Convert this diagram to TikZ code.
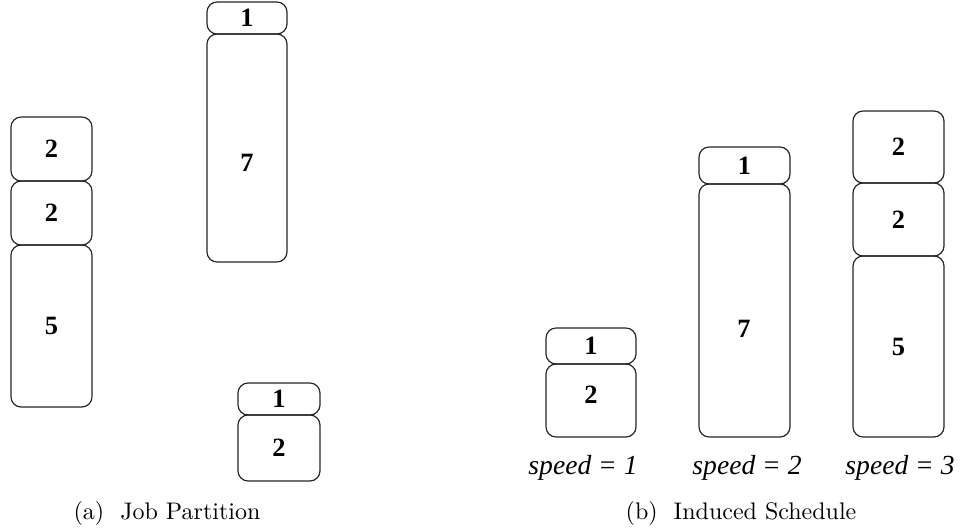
\documentclass[tikz,border=0pt]{standalone}
\usepackage{fontspec}
\newfontfamily\timesfam{Liberation Serif}[Ligatures=TeX]
\usetikzlibrary{fit}
\begin{document}
\begin{tikzpicture}[x=0.4167pt,y=-0.4167pt,
  jobbox/.style={draw=black!85, line width=0.5pt, rounded corners=4.2pt, inner sep=0pt},
  numtext/.style={font=\timesfam\bfseries\fontsize{11}{13}\selectfont, inner sep=0pt},
  speedlbl/.style={font=\timesfam\itshape\fontsize{11.5}{14}\selectfont, anchor=base, inner sep=0pt},
  captext/.style={font=\fontsize{10}{12}\selectfont, anchor=base, inner sep=0pt}]
\useasboundingbox (0,0) rectangle (961,529);
% (a) Job Partition
\node[jobbox, fit={(11,117)(92,181)}] (a1) {};
\node[numtext] (a1t) at (a1.center) {2};
\node[jobbox, fit={(11,181)(92,245)}] (a2) {};
\node[numtext] (a2t) at (a2.center) {2};
\node[jobbox, fit={(11,245)(92,407)}] (a3) {};
\node[numtext] (a3t) at (a3.center) {5};
\node[jobbox, fit={(207,2)(287,34)}] (b1) {};
\node[numtext] (b1t) at (b1.center) {1};
\node[jobbox, fit={(207,34)(287,262)}] (b2) {};
\node[numtext] (b2t) at (247,163) {7};
\node[jobbox, fit={(238,383)(320,415)}] (c1) {};
\node[numtext] (c1t) at (c1.center) {1};
\node[jobbox, fit={(238,415)(320,481)}] (c2) {};
\node[numtext] (c2t) at (c2.center) {2};
\node[captext] (capa) at (167,519) {(a)\ \ Job Partition};
% (b) Induced Schedule
\node[jobbox, fit={(546,328)(636,364)}] (d1) {};
\node[numtext] (d1t) at (d1.center) {1};
\node[jobbox, fit={(546,364)(636,437)}] (d2) {};
\node[numtext] (d2t) at (591,395) {2};
\node[jobbox, fit={(699,147)(790,184)}] (e1) {};
\node[numtext] (e1t) at (e1.center) {1};
\node[jobbox, fit={(699,184)(790,437)}] (e2) {};
\node[numtext] (e2t) at (744,329) {7};
\node[jobbox, fit={(853,111)(944,183)}] (f1) {};
\node[numtext] (f1t) at (f1.center) {2};
\node[jobbox, fit={(853,183)(944,256)}] (f2) {};
\node[numtext] (f2t) at (f2.center) {2};
\node[jobbox, fit={(853,256)(944,437)}] (f3) {};
\node[numtext] (f3t) at (f3.center) {5};
\node[speedlbl] (s1) at (583,474) {speed = 1};
\node[speedlbl] (s2) at (747,474) {speed = 2};
\node[speedlbl] (s3) at (900,474) {speed = 3};
\node[captext] (capb) at (741,519) {(b)\ \ Induced Schedule};
\end{tikzpicture}
\end{document}
